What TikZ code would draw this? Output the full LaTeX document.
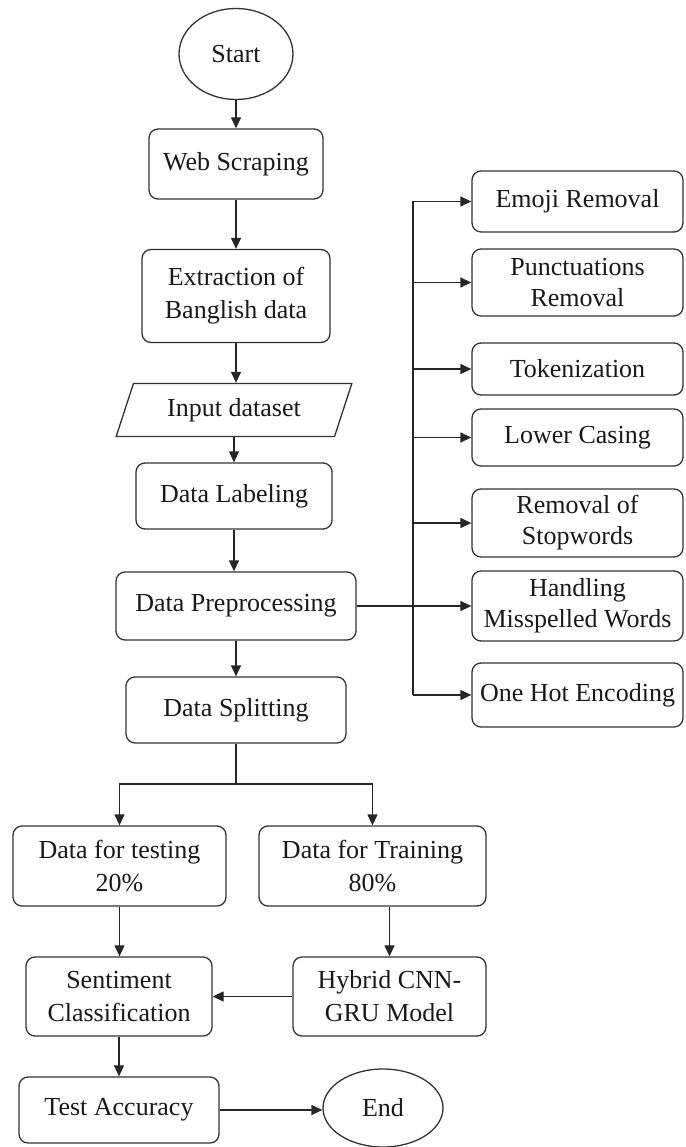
\documentclass[tikz,border=0pt]{standalone}
\usepackage{fontspec}
\setmainfont{Liberation Serif}
\usetikzlibrary{arrows.meta,shapes.geometric}
\begin{document}
\begin{tikzpicture}[x=1pt,y=-1pt,
  txt/.style={align=center, inner sep=0pt, text=black!90, font=\fontsize{26}{33}\selectfont},
  box/.style={txt, draw=black!80, line width=1.3pt, rounded corners=9pt},
  rbox/.style={box, minimum width=211pt, font=\fontsize{26}{31}\selectfont},
  oval/.style={txt, draw=black!80, line width=1.3pt, ellipse},
  para/.style={txt, draw=black!80, line width=1.3pt, trapezium, trapezium left angle=64, trapezium right angle=116, trapezium stretches=true},
  arr/.style={line width=1.3pt, draw=black!85, -{Triangle[length=11pt,width=10pt]}},
  ln/.style={line width=1.3pt, draw=black!85}]
\useasboundingbox (0,0) rectangle (685,1147);
% main column
\node[oval, minimum width=114pt, minimum height=91pt] (start) at (236,54) {Start};
\node[box, minimum width=174pt, minimum height=70pt] (web) at (236,164) {Web Scraping};
\node[box, minimum width=188pt, minimum height=93pt] (ext) at (236,296) {Extraction of\\Banglish data};
\node[para, minimum width=236pt, minimum height=53pt] (inp) at (234,410) {Input dataset};
\node[box, minimum width=196pt, minimum height=66pt] (lab) at (234,496) {Data Labeling};
\node[box, minimum width=240pt, minimum height=68pt] (pre) at (236,606) {Data Preprocessing};
\node[box, minimum width=220pt, minimum height=66pt] (spl) at (236,710) {Data Splitting};
\node[box, minimum width=213pt, minimum height=80pt] (test) at (119.5,866) {Data for testing\\20\%};
\node[box, minimum width=227pt, minimum height=80pt] (train) at (372.5,866) {Data for Training\\80\%};
\node[box, minimum width=186pt, minimum height=79pt] (sent) at (119,996.5) {Sentiment\\Classification};
\node[box, minimum width=193pt, minimum height=79pt] (hyb) at (389.5,996.5) {Hybrid CNN-\\GRU Model};
\node[box, minimum width=200pt, minimum height=66pt] (acc) at (119,1110) {Test Accuracy};
\node[oval, minimum width=120pt, minimum height=78pt] (end) at (383,1108) {End};
% right column
\node[rbox, minimum height=61pt] (emoji) at (577.5,201.5) {Emoji Removal};
\node[rbox, minimum height=67pt] (punc) at (577.5,282.5) {Punctuations\\Removal};
\node[rbox, minimum height=52pt] (tok) at (577.5,369) {Tokenization};
\node[rbox, minimum height=57pt] (low) at (577.5,437.5) {Lower Casing};
\node[rbox, minimum height=68pt] (stop) at (577.5,523) {Removal of\\Stopwords};
\node[rbox, minimum height=70pt] (hand) at (577.5,606) {Handling\\Misspelled Words};
\node[rbox, minimum height=64pt] (one) at (577.5,695) {One Hot Encoding};
% connectors main
\draw[arr] (start) -- (web);
\draw[arr] (web) -- (ext);
\draw[arr] (ext.south) -- (ext.south |- inp.north);
\draw[arr] (inp.south) -- (inp.south |- lab.north);
\draw[arr] (lab.south) -- (lab.south |- pre.north);
\draw[arr] (pre) -- (spl);
\coordinate (sj) at (236,784);
\draw[ln] (spl.south) -- (sj);
\draw[arr] (sj) -| (test.north);
\draw[arr] (sj) -| (train.north);
\draw[arr] (test.south) -- (test.south |- sent.north);
\draw[arr] (hyb.north |- train.south) -- (hyb.north);
\draw[arr] (hyb.west) -- (sent.east);
\draw[arr] (sent.south) -- (sent.south |- acc.north);
\draw[arr] (acc.east) -- (acc.east -| end.west);
% right side trunk
\coordinate (tt) at (413,201.5);
\coordinate (tb) at (413,695);
\draw[ln] (tt) -- (tb);
\draw[line width=2pt, draw=black!85] (pre.east) -- (pre.east -| tt);
\draw[line width=2pt, draw=black!85] (tt |- low.south) -- (tt |- pre.east);
\draw[arr] (pre.east) -- (hand.west);
\foreach \n in {emoji,punc,tok,low,stop,one}
  \draw[arr] (\n.west -| tt) -- (\n.west);
\end{tikzpicture}
\end{document}
